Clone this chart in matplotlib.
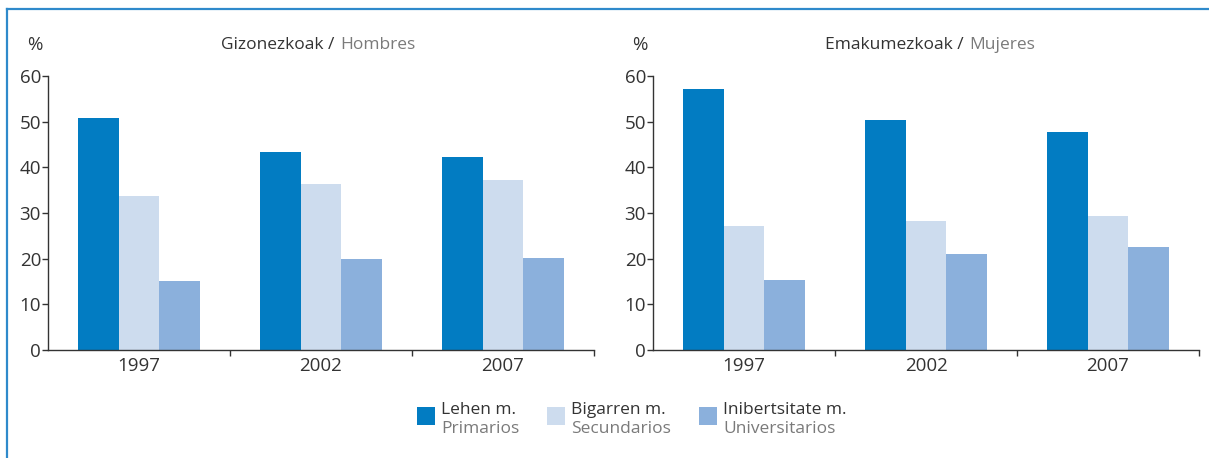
import matplotlib
matplotlib.use("Agg")
import matplotlib.pyplot as plt
from matplotlib.patches import Rectangle
from matplotlib.lines import Line2D
import numpy as np

plt.rcParams['font.family'] = ['Open Sans', 'DejaVu Sans']

years = ["1997", "2002", "2007"]
series_eu = ["Lehen m.", "Bigarren m.", "Inibertsitate m."]
series_es = ["Primarios", "Secundarios", "Universitarios"]
men_primary = [50.8, 43.4, 42.3]
men_secondary = [33.8, 36.4, 37.3]
men_university = [15.2, 20.0, 20.2]
women_primary = [57.2, 50.4, 47.8]
women_secondary = [27.2, 28.3, 29.4]
women_university = [15.4, 21.1, 22.6]
yticks = [0, 10, 20, 30, 40, 50, 60]
titles_eu = ["Gizonezkoak /", "Emakumezkoak /"]
titles_es = ["Hombres", "Mujeres"]

colors = ["#027cc2", "#cddcee", "#8bb0dc"]
dark = "#333333"
grey = "#7a7a7a"
border = "#2f8acb"

W, H = 1209, 458
fig = plt.figure(figsize=(W / 100, H / 100), dpi=100)

def fx(px):
    return px / W

def fy(py):
    return 1 - py / H

# frame lines
fig.add_artist(Line2D([fx(7), fx(7)], [fy(9), fy(460)], color=border, lw=1.6))
fig.add_artist(Line2D([fx(7), fx(1210)], [fy(9), fy(9)], color=border, lw=1.6))

panels = [
    (48, [men_primary, men_secondary, men_university], 0, 221),
    (653, [women_primary, women_secondary, women_university], 1, 825),
]

FS = 13.5
bw = 0.225
x = np.arange(len(years))
for left_px, data, k, tx in panels:
    ax = fig.add_axes([fx(left_px), fy(350), fx(546), (350 - 76) / H])
    for i, (vals, c) in enumerate(zip(data, colors)):
        ax.bar(x + (i - 1) * bw, vals, width=bw, color=c, linewidth=0)
    ax.set_xlim(-0.5, 2.5)
    ax.set_ylim(0, 60)
    ax.set_yticks(yticks)
    ax.set_yticklabels([str(v) for v in yticks])
    ax.set_xticks(x)
    ax.set_xticklabels(years)
    ax.set_xticks([0.5, 1.5, 2.5], minor=True)
    ax.tick_params(axis='x', which='major', length=0, pad=5, labelsize=FS, labelcolor=dark)
    ax.tick_params(axis='x', which='minor', length=4, width=1, color=dark, direction='out')
    ax.tick_params(axis='y', length=4, width=1, color=dark, pad=1, labelsize=FS, labelcolor=dark)
    for s in ['top', 'right']:
        ax.spines[s].set_visible(False)
    for s in ['left', 'bottom']:
        ax.spines[s].set_color(dark)
        ax.spines[s].set_linewidth(1.0)
    ax.patch.set_alpha(0)
    fig.text(fx(left_px - 13), fy(45), "%", ha='center', va='center', fontsize=FS, color=dark)
    t1 = fig.text(fx(tx), fy(45), titles_eu[k], ha='left', va='center', fontsize=FS - 1, color=dark)
    ax.annotate(titles_es[k], xy=(1, 0), xycoords=t1, xytext=(4, 0), textcoords='offset points',
                ha='left', va='bottom', fontsize=FS - 1, color=grey)

# legend
leg_x = [417, 547, 699]
for lx, c, l1, l2 in zip(leg_x, colors, series_eu, series_es):
    fig.add_artist(Rectangle((fx(lx), fy(425)), fx(18), 18 / H, color=c, linewidth=0))
    fig.text(fx(lx + 24), fy(410), l1, ha='left', va='center', fontsize=FS - 1, color=dark)
    fig.text(fx(lx + 24), fy(429), l2, ha='left', va='center', fontsize=FS - 1, color=grey)

fig.savefig("out.png", dpi=100)
